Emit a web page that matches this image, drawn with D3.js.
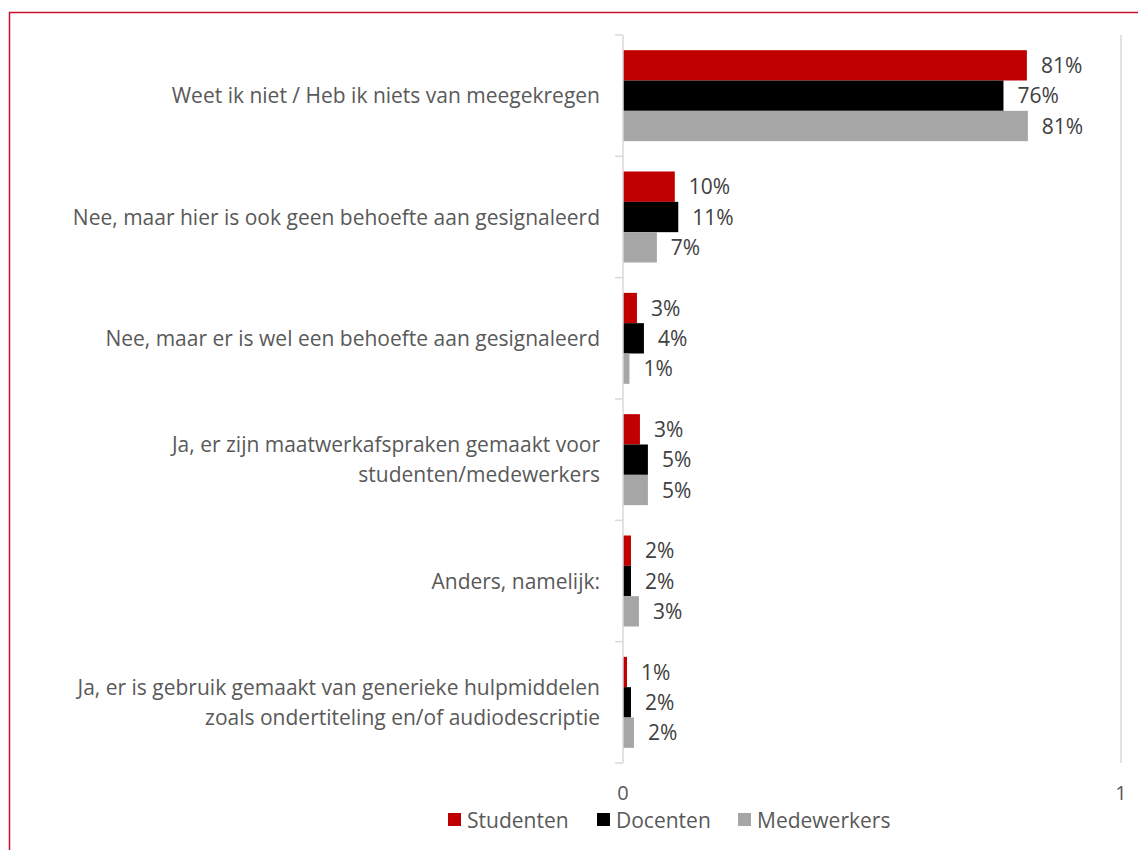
<!DOCTYPE html>
<html>
<head>
<meta charset="utf-8">
<script src="https://cdn.jsdelivr.net/npm/d3@7"></script>
<style>
  html, body { margin: 0; padding: 0; background: #fff; }
  svg { display: block; }
  text { font-family: "Open Sans", "Noto Sans", sans-serif; }
</style>
</head>
<body>
<svg id="chart" width="1138" height="850"></svg>
<script>
const categories = [
  "Weet ik niet / Heb ik niets van meegekregen",
  "Nee, maar hier is ook geen behoefte aan gesignaleerd",
  "Nee, maar er is wel een behoefte aan gesignaleerd",
  "Ja, er zijn maatwerkafspraken gemaakt voor\nstudenten/medewerkers",
  "Anders, namelijk:",
  "Ja, er is gebruik gemaakt van generieke hulpmiddelen\nzoals ondertiteling en/of audiodescriptie"
];
const seriesNames = ["Studenten", "Docenten", "Medewerkers"];
const studenten   = [0.811, 0.104, 0.028, 0.034, 0.016, 0.008];
const docenten    = [0.764, 0.111, 0.042, 0.050, 0.016, 0.016];
const medewerkers = [0.813, 0.068, 0.013, 0.050, 0.032, 0.022];
const seriesColors = ["#c00000", "#000000", "#a6a6a6"];
const xTicks = [0, 1];

const seriesValues = [studenten, docenten, medewerkers];
const svg = d3.select("#chart");
const FS = 21;

// frame border
svg.append("rect").attr("x", 9.5).attr("y", 12.5).attr("width", 1200).attr("height", 900)
  .attr("fill", "none").attr("stroke", "#c8102e").attr("stroke-width", 1.5);

const x0 = 623, x1 = 1121, yTop = 35, yBot = 763;
const x = d3.scaleLinear().domain([0, 1]).range([x0, x1]);
const y = d3.scaleBand().domain(categories).range([yTop, yBot]).paddingInner(0.25).paddingOuter(0.125);
const ySub = d3.scaleBand().domain(seriesNames).range([0, y.bandwidth()]);

const g = svg.append("g");

// right gridline at 1
g.append("line").attr("x1", x(1)).attr("x2", x(1)).attr("y1", yTop).attr("y2", yBot)
  .attr("stroke", "#d9d9d9").attr("stroke-width", 1.5);

// bars
seriesNames.forEach((s, si) => {
  g.selectAll(".bar" + si).data(categories).enter().append("rect")
    .attr("x", x(0))
    .attr("y", c => y(c) + ySub(s))
    .attr("width", (c, i) => x(seriesValues[si][i]) - x(0))
    .attr("height", ySub.bandwidth())
    .attr("fill", seriesColors[si]);
  g.selectAll(".lbl" + si).data(categories).enter().append("text")
    .attr("x", (c, i) => x(seriesValues[si][i]) + 14)
    .attr("y", c => y(c) + ySub(s) + ySub.bandwidth() / 2)
    .attr("dy", "0.36em")
    .attr("font-size", FS)
    .attr("fill", "#404040")
    .text((c, i) => d3.format(".0%")(seriesValues[si][i]));
});

// y axis line and ticks at band boundaries
g.append("line").attr("x1", x0).attr("x2", x0).attr("y1", yTop).attr("y2", yBot)
  .attr("stroke", "#d9d9d9").attr("stroke-width", 1.5);
const step = y.step();
const boundaries = d3.range(categories.length + 1).map(i => yTop + i * step);
g.selectAll(".tick").data(boundaries).enter().append("line")
  .attr("x1", x0 - 8).attr("x2", x0).attr("y1", d => d).attr("y2", d => d)
  .attr("stroke", "#d9d9d9").attr("stroke-width", 1.5);

// category labels
categories.forEach(c => {
  const lines = c.split("\n");
  const cy = y(c) + y.bandwidth() / 2;
  const lh = 30;
  const t = g.append("text").attr("text-anchor", "end").attr("font-size", FS).attr("fill", "#595959");
  lines.forEach((ln, i) => {
    t.append("tspan").attr("x", 600)
      .attr("y", cy + (i - (lines.length - 1) / 2) * lh)
      .attr("dy", "0.36em").text(ln);
  });
});

// x tick labels
g.selectAll(".xt").data(xTicks).enter().append("text")
  .attr("x", d => x(d)).attr("y", 793).attr("dy", "0.36em")
  .attr("text-anchor", "middle").attr("font-size", 20).attr("fill", "#595959")
  .text(d => d);

// legend
const legendX = [448, 597, 738];
seriesNames.forEach((s, i) => {
  g.append("rect").attr("x", legendX[i]).attr("y", 813).attr("width", 13).attr("height", 13)
    .attr("fill", seriesColors[i]);
  g.append("text").attr("x", legendX[i] + 19).attr("y", 820).attr("dy", "0.36em")
    .attr("font-size", FS).attr("fill", "#595959").text(s);
});
</script>
</body>
</html>
